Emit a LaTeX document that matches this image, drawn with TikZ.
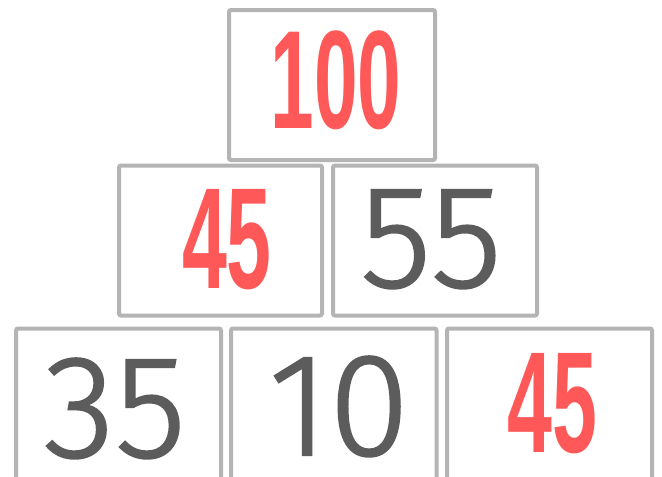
\documentclass[tikz,border=0pt]{standalone}
\usepackage{fontspec}
\newfontfamily\redfont[FakeStretch=0.56]{Liberation Sans}
\newfontfamily\handfont[FakeBold=1.5]{Fira Sans Light}
\definecolor{boxgray}{HTML}{B4B4B4}
\definecolor{numred}{HTML}{FF5858}
\definecolor{numgray}{HTML}{5C5C5C}
\tikzset{
  card/.style={draw=boxgray, line width=4pt, rounded corners=2pt, fill=white,
    inner sep=0pt, minimum width=#1, minimum height=150pt},
  rednum/.style={anchor=base, inner sep=0pt, text=numred,
    font=\redfont\bfseries\fontsize{144}{144}\selectfont},
  handnum/.style={anchor=base, inner sep=0pt, text=numgray,
    font=\handfont\fontsize{146}{146}\selectfont}
}
\begin{document}
\begin{tikzpicture}[x=1pt,y=-1pt]
\fill[white] (0,0) rectangle (662,477);
\useasboundingbox (0,0) rectangle (662,477);
% cards
\node[card=206pt] (top) at (332,85) {};
\node[card=203pt] (midL) at (220.5,240.5) {};
\node[card=204pt] (midR) at (435,240.5) {};
\node[card=205pt, minimum height=160pt] (botL) at (118.5,408.5) {};
\node[card=205.5pt, minimum height=160pt] (botM) at (333.75,408.5) {};
\node[card=205pt, minimum height=160pt] (botR) at (549.5,408.5) {};
% numbers
\node[rednum, font=\redfont\bfseries\fontsize{140}{140}\selectfont] (t100) at (336,128) {100};
\node[rednum] (t45a) at (227,288) {45};
\node[handnum] (t55) at (431,287) {55};
\node[handnum] (t35) at (115,457) {35};
\node[handnum] (t10) at (339,455) {10};
\node[rednum] (t45b) at (552.5,452) {45};
\end{tikzpicture}
\end{document}
